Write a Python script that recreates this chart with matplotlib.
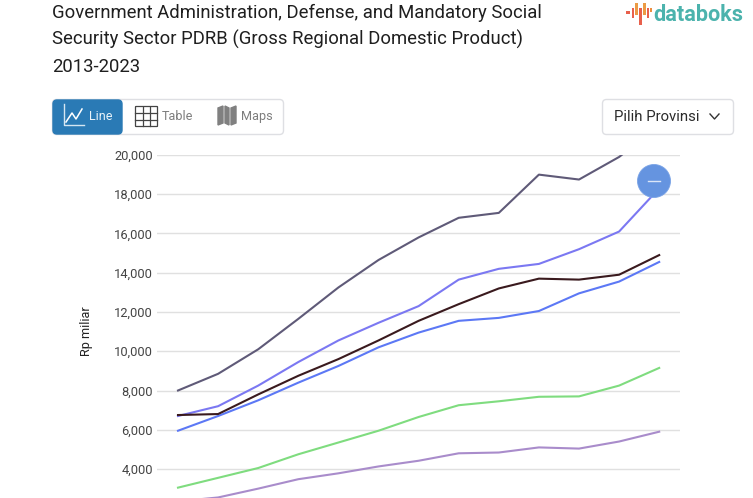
import matplotlib
matplotlib.use("Agg")
import matplotlib.pyplot as plt
from matplotlib.patches import FancyBboxPatch, Circle, Rectangle

plt.rcParams['font.family'] = ['Roboto', 'DejaVu Sans']

W, H = 753, 498
periods = list(range(2011, 2024))
dark_gray = [8000, 8850, 10100, 11650, 13250, 14650, 15800, 16800, 17050, 19000, 18750, 19900, 21500]
periwinkle = [6700, 7200, 8250, 9450, 10550, 11450, 12300, 13650, 14200, 14450, 15200, 16100, 18300]
near_black = [6750, 6800, 7800, 8750, 9600, 10550, 11550, 12400, 13200, 13700, 13650, 13900, 14900]
blue = [5950, 6700, 7500, 8400, 9250, 10200, 10950, 11550, 11700, 12050, 12950, 13550, 14550]
green = [3050, 3550, 4050, 4750, 5350, 5950, 6650, 7250, 7450, 7680, 7700, 8250, 9150]
purple = [2350, 2550, 3000, 3480, 3780, 4130, 4420, 4800, 4840, 5100, 5040, 5400, 5900]
yticks = list(range(4000, 20001, 2000))
title_lines = ["Government Administration, Defense, and Mandatory Social",
               "Security Sector PDRB (Gross Regional Domestic Product)",
               "2013-2023"]

fig = plt.figure(figsize=(W / 100, H / 100), dpi=100)

# plot area in pixels
L, R, T, B = 157, 680, 155, 498
ax = fig.add_axes([L / W, 1 - B / H, (R - L) / W, (B - T) / H])
ppu = (469 - 155) / 16000
ax.set_ylim(20000 - (B - T) / ppu, 20000)
step = 40.1
x0 = 2011 - (178 - L) / step
ax.set_xlim(x0, x0 + (R - L) / step)
for v, c in [(purple, '#a98ccb'), (green, '#7fdc7f'), (blue, '#5c78f5'),
             (periwinkle, '#7b78f2'), (near_black, '#3a1a1e'), (dark_gray, '#5f5a78')]:
    ax.plot(periods, v, color=c, lw=1.5, solid_joinstyle='round', zorder=3)
for s in ax.spines.values():
    s.set_visible(False)
ax.set_xticks([])
ax.set_yticks(yticks)
ax.set_yticklabels([f"{t:,}" for t in yticks], fontsize=9.3, color='#444444')
ax.tick_params(axis='y', length=0, pad=3)
ax.grid(axis='y', color='#e0e0e0', lw=1)
ax.set_axisbelow(True)

# overlay in pixel coordinates for page furniture
ov = fig.add_axes([0, 0, 1, 1], zorder=5)
ov.set_xlim(0, W)
ov.set_ylim(H, 0)
ov.axis('off')
ov.patch.set_alpha(0)

ov.text(87, 331, "Rp miliar", fontsize=9.2, color='#222222', rotation=90, va='center', ha='center')

for i, line in enumerate(title_lines):
    ov.text(52, 12.5 + i * 27, line, fontsize=13.35, color='#1f1f1f', va='center', ha='left')

def rbox(x, y, w, h, r=4, fc='white', ec='#dedfe3', lw=1, z=2):
    ov.add_patch(FancyBboxPatch((x + r, y + r), w - 2 * r, h - 2 * r,
                                boxstyle=f"round,pad={r}", fc=fc, ec=ec, lw=lw, zorder=z))

# toggle group
rbox(52.5, 99.5, 231, 35)
rbox(53, 100, 69, 34, fc='#2a7ab5', ec='#2a7ab5', z=3)
ov.plot([64, 64, 84], [104, 125, 125], color='#d5e6f2', lw=1, zorder=4)
ov.plot([66, 72, 76, 82], [122, 113, 119, 109], color='white', lw=1.1, zorder=4)
ov.text(89, 116.5, "Line", fontsize=9, color='#eaf3f9', va='center', zorder=4)
# table icon
ov.add_patch(FancyBboxPatch((136, 107), 21, 19, boxstyle="round,pad=0.5", fc='none', ec='#444444', lw=0.9, zorder=4))
for xx in (143, 150):
    ov.plot([xx, xx], [107, 126], color='#444444', lw=0.9, zorder=4)
for yy in (113.3, 119.6):
    ov.plot([135.5, 157.5], [yy, yy], color='#444444', lw=0.9, zorder=4)
ov.text(162, 116.5, "Table", fontsize=9.1, color='#7d7d7d', va='center', zorder=4)
# map icon
for xs in ([218, 223, 223, 218], [225, 229, 229, 225], [231, 236, 236, 231]):
    ov.fill(xs, [108, 106, 123, 125] if xs[0] != 225 else [106, 108, 125, 123], color='#808080', zorder=4)
ov.text(241.5, 116.5, "Maps", fontsize=9.1, color='#7d7d7d', va='center', zorder=4)

# province selector
rbox(602.5, 99.5, 131, 35)
ov.text(614, 116.5, "Pilih Provinsi", fontsize=10.7, color='#2b2b2b', va='center', zorder=4)
ov.plot([710, 714.5, 719], [114, 119, 114], color='#333333', lw=1, zorder=4)

# floating button
ov.add_patch(Circle((654, 181), 16.5, fc='#6594e0', ec='#7aa3e6', lw=0.6, zorder=6))
ov.plot([648, 660], [181, 181], color='#dbe6f8', lw=1, zorder=7)

# logo
for x, y0, y1, w, c in [(628, 11, 13.5, 3.5, '#e8604c'), (632.8, 8, 18, 2.5, '#e8604c'),
                        (636.6, 3, 15, 2.5, '#ec9b45'), (640.6, 8, 25, 2.8, '#e8604c'),
                        (644.6, 3, 15, 2.5, '#ec9b45'), (648, 8, 18, 2.5, '#e8604c'),
                        (651, 8, 12, 2.5, '#ec8f3f')]:
    ov.add_patch(Rectangle((x - w / 2, y0), w, y1 - y0, fc=c, ec='none', zorder=4))
ov.text(653, 14.5, "databoks", fontsize=15.6, fontweight='bold', color='#4cb3ad', va='center', zorder=4)

fig.savefig("out.png", dpi=100)
